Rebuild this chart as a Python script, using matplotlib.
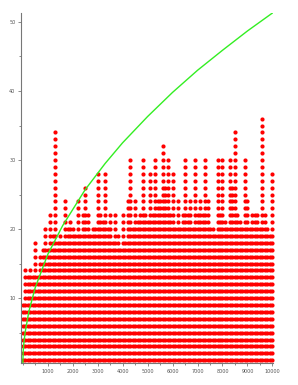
import matplotlib
matplotlib.use("Agg")
import matplotlib.pyplot as plt
from matplotlib.ticker import MultipleLocator

# column positions (steps of 100) and the highest value reached in each column
col_x = list(range(0, 10001, 100))
col_top = [9, 14, 13, 14, 13, 18, 13, 16, 17, 20,
           17, 22, 19, 34, 18, 19, 18, 24, 20, 21,
           20, 19, 24, 19, 22, 26, 22, 19, 20, 20,
           28, 22, 21, 28, 20, 22, 18, 22, 19, 17,
           22, 18, 24, 30, 20, 24, 21, 22, 30, 22,
           21, 28, 22, 30, 24, 24, 32, 26, 30, 22,
           28, 20, 24, 20, 22, 30, 22, 24, 20, 30,
           22, 24, 22, 30, 24, 20, 20, 19, 30, 22,
           30, 21, 20, 30, 26, 34, 22, 21, 20, 30,
           24, 20, 22, 22, 22, 20, 36, 22, 20, 19,
           28]
col_bottom = 1

# green curve, points
curve_x = [0, 20, 50, 100, 250, 500, 1000, 1600, 2500, 3300, 4000, 5000, 6000, 7000, 8000, 9000, 10000]
curve_y = [0, 2.3, 3.6, 5.1, 8.1, 11.5, 16.3, 20.5, 25.7, 29.5, 32.5, 36.3, 39.8, 43.0, 45.9, 48.7, 51.3]

px = []
py = []
for x, top in zip(col_x, col_top):
    for v in range(col_bottom, top + 1):
        px.append(x)
        py.append(v)

fig = plt.figure(figsize=(2.98, 3.85), dpi=100)
ax = fig.add_axes([21/298, 22/385, (272.7-21)/298, (363-13)/385])

ax.scatter(px, py, s=9, color="#ff0000", linewidths=0, clip_on=False, zorder=2)
ax.plot(curve_x, curve_y, color="#33ee22", lw=1.0, zorder=3)

ax.set_xlim(-68, 10010)
ax.set_ylim(0.6, 51.3)

ax.spines["top"].set_visible(False)
ax.spines["right"].set_visible(False)
for s in ["left", "bottom"]:
    ax.spines[s].set_color("#777777")
    ax.spines[s].set_linewidth(0.8)

ax.set_xticks(range(1000, 10001, 1000))
ax.xaxis.set_minor_locator(MultipleLocator(500))
ax.set_yticks([10, 20, 30, 40, 50])
ax.yaxis.set_minor_locator(MultipleLocator(5))
ax.tick_params(which="major", length=2.5, width=0.6, color="#777777", labelsize=3.5,
               labelcolor="#555555", pad=1.5)
ax.tick_params(which="minor", length=1.3, width=0.6, color="#777777")

fig.savefig("out.png", dpi=100)
